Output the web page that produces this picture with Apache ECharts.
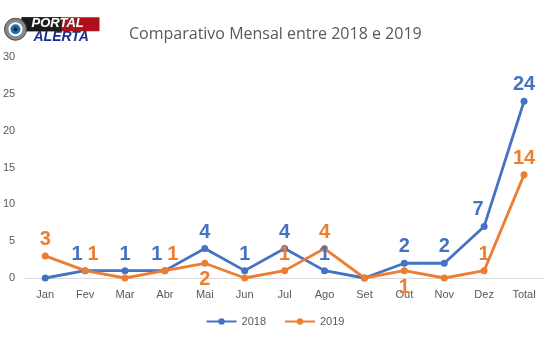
<!DOCTYPE html>
<html><head><meta charset="utf-8">
<script src="https://cdn.jsdelivr.net/npm/echarts@6/dist/echarts.min.js"></script>
<style>html,body{margin:0;padding:0;background:#fff}#c{width:550px;height:350px}</style>
</head><body><div id="c"></div>
<script>
const categories = ['Jan','Fev','Mar','Abr','Mai','Jun','Jul','Ago','Set','Out','Nov','Dez','Total'];
const values2018 = [0,1,1,1,4,1,4,1,0,2,2,7,24];
const values2019 = [3,1,0,1,2,0,1,4,0,1,0,1,14];
const yTicks = [0,5,10,15,20,25,30];
// label placement per point: [position, dx]
const pos2018 = [null,['top',-8],['top',0],['top',-8],['top',0],['top',0],['top',0],['top',0],null,['top',0],['top',0],['top',-6],['top',0]];
const pos2019 = [['top',0],['top',8],null,['top',8],['bottom',0],null,['top',0],['top',0],null,['bottom',0],null,['top',0],['top',0]];
const blue = '#4472C4', orange = '#ED7D31';
function mk(vals, p){
  return vals.map((v,i)=>{
    const o = {value:v};
    if(p[i]){ o.label={show:true,position:p[i][0],offset:[p[i][1],0]}; }
    else o.label={show:false};
    return o;
  });
}
const chart = echarts.init(document.getElementById('c'));
function series(name, vals, p, color){
  return {name, type:'line', data:mk(vals,p), symbol:'circle', symbolSize:7,
    lineStyle:{width:2.8,color}, itemStyle:{color},
    label:{color, fontSize:20, fontWeight:'bold', fontFamily:'Liberation Sans, Arial', distance:3}};
}
chart.setOption({
  animation:false,
  title:{text:'Comparativo Mensal entre 2018 e 2019', left:124, top:21,
    textStyle:{fontSize:16, fontWeight:'normal', color:'#595959', fontFamily:'Open Sans'}},
  grid:{left:24, right:6, top:57, bottom:72, containLabel:false},
  legend:{bottom:18, left:'center', itemWidth:30, itemHeight:8, itemGap:18,
    textStyle:{color:'#595959', fontSize:11, fontFamily:'Liberation Sans'},
    data:['2018','2019']},
  xAxis:{type:'category', data:categories, boundaryGap:true,
    axisLine:{lineStyle:{color:'#D9D9D9'}}, axisTick:{show:false},
    axisLabel:{color:'#595959', fontSize:11, fontFamily:'Liberation Sans', margin:11}},
  yAxis:{type:'value', min:yTicks[0], max:yTicks[yTicks.length-1], interval:yTicks[1]-yTicks[0],
    splitLine:{show:false}, axisLine:{show:false}, axisTick:{show:false},
    axisLabel:{color:'#595959', fontSize:11, fontFamily:'Liberation Sans', margin:10}},
  graphic:[
    {type:'group', left:4, top:17, children:[
      {type:'rect', shape:{x:18,y:2,width:78,height:14}, style:{fill:'#B0101A'}},
      {type:'rect', shape:{x:18,y:2,width:40,height:14}, style:{fill:'#1a1a1a'}},
      {type:'circle', shape:{cx:12,cy:14,r:11}, style:{fill:'#888',stroke:'#444',lineWidth:1}},
      {type:'circle', shape:{cx:12,cy:14,r:7}, style:{fill:'#ffffff'}},
      {type:'circle', shape:{cx:12,cy:14,r:5}, style:{fill:'#1E6FB8'}},
      {type:'circle', shape:{cx:12,cy:14,r:2}, style:{fill:'#0a2a4a'}},
      {type:'text', x:28, y:2, style:{text:'PORTAL', fill:'#ffffff', font:'italic bold 13px Liberation Sans', stroke:'#555', lineWidth:0.5}},
      {type:'text', x:30, y:15, style:{text:'ALERTA', fill:'#1B2E8C', font:'italic bold 14px Liberation Sans'}}
    ]}
  ],
  series:[series('2018',values2018,pos2018,blue), series('2019',values2019,pos2019,orange)]
});
</script></body></html>
